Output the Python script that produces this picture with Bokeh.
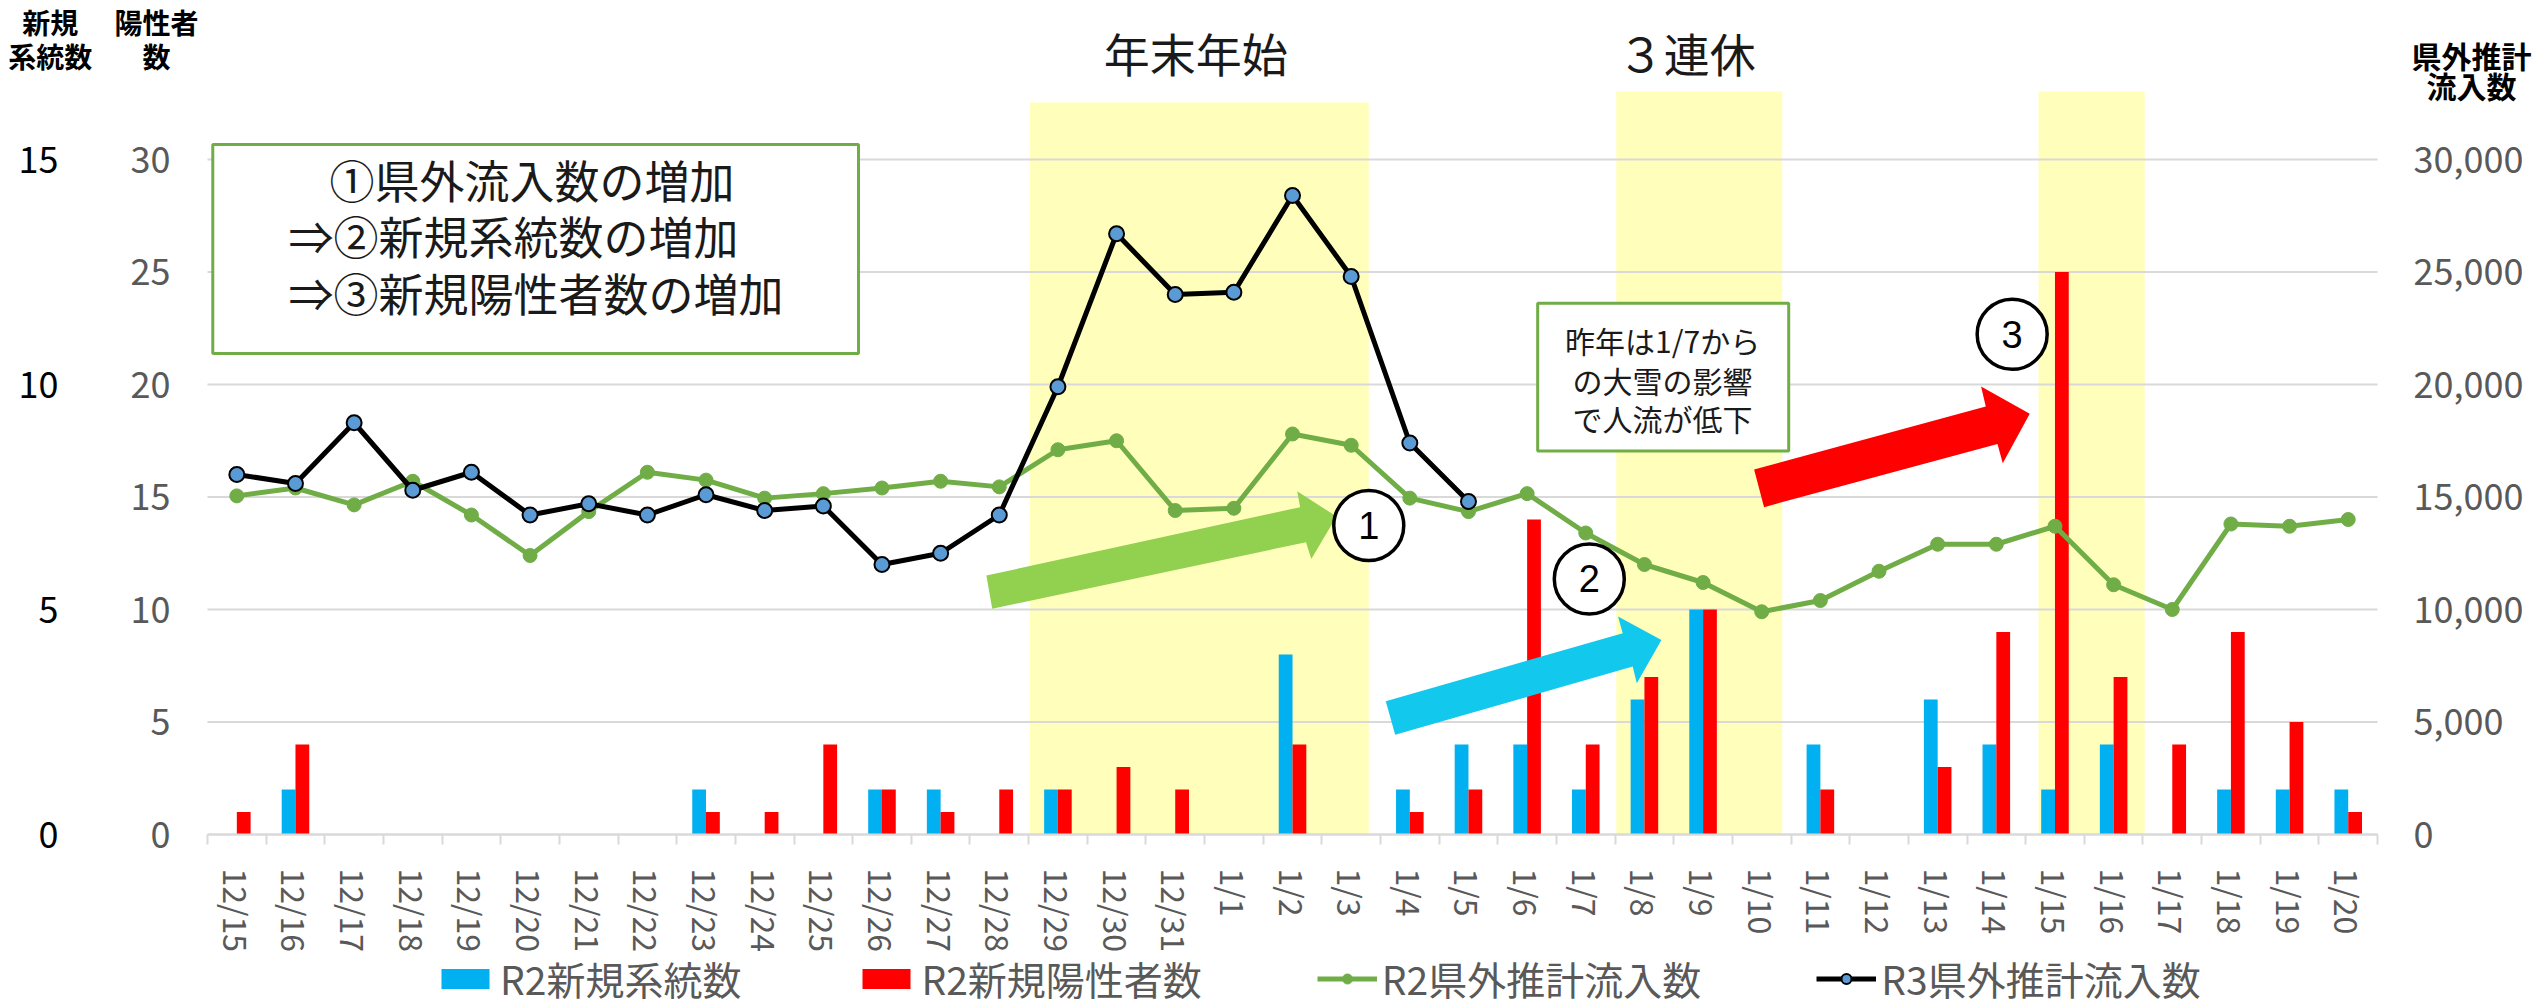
from bokeh.plotting import figure
from bokeh.models import (Range1d, LinearAxis, FixedTicker, Legend, LegendItem,
                          Label, BoxAnnotation, NumeralTickFormatter)
from bokeh.embed import file_html
from bokeh.resources import INLINE

# ---------------- data ----------------
dates = ["12/15", "12/16", "12/17", "12/18", "12/19", "12/20", "12/21", "12/22",
         "12/23", "12/24", "12/25", "12/26", "12/27", "12/28", "12/29", "12/30",
         "12/31", "1/1", "1/2", "1/3", "1/4", "1/5", "1/6", "1/7", "1/8", "1/9",
         "1/10", "1/11", "1/12", "1/13", "1/14", "1/15", "1/16", "1/17", "1/18",
         "1/19", "1/20"]

# R2 new lineages (left outer axis 0-15)
r2_lineages = [0, 1, 0, 0, 0, 0, 0, 0, 1, 0, 0, 1, 1, 0, 1, 0, 0, 0, 4, 0, 1, 2,
               2, 1, 3, 5, 0, 2, 0, 3, 2, 1, 2, 0, 1, 1, 1]
# R2 new positives (left inner axis 0-30)
r2_positives = [1, 4, 0, 0, 0, 0, 0, 0, 1, 1, 4, 2, 1, 2, 2, 3, 2, 0, 4, 0, 1, 2,
                14, 4, 7, 10, 0, 2, 0, 3, 9, 25, 7, 4, 9, 5, 1]
# R2 estimated inflow from outside prefecture (right axis)
r2_inflow = [15050, 15400, 14650, 15700, 14200, 12400, 14350, 16100, 15750, 14950,
             15150, 15400, 15700, 15450, 17100, 17500, 14400, 14500, 17800, 17300,
             14950, 14350, 15150, 13400, 12000, 11200, 9900, 10400, 11700, 12900,
             12900, 13700, 11100, 10000, 13800, 13700, 14000]
# R3 estimated inflow (12/15 - 1/5)
r3_inflow = [16000, 15600, 18300, 15300, 16100, 14200, 14700, 14200, 15100, 14400,
             14600, 12000, 12500, 14200, 19900, 26700, 24000, 24100, 28400, 24800,
             17400, 14800]

pos_ticks = [0, 5, 10, 15, 20, 25, 30]
lin_ticks = [0, 5, 10, 15]
flow_ticks = [0, 5000, 10000, 15000, 20000, 25000, 30000]

legend_labels = ["R2新規系統数", "R2新規陽性者数", "R2県外推計流入数", "R3県外推計流入数"]

# ---------------- styling ----------------
FONT = "Noto Sans CJK JP"
GREY = "#595959"
GRID = "#D9D9D9"
C_BLUE = "#00B0F0"
C_RED = "#FF0000"
C_GREEN = "#70AD47"
C_MARK = "#5B9BD5"
C_SHADE = "#FFFFBB"

W, H = 2540, 1006
n = len(dates)
centers = [i + 0.5 for i in range(n)]
CAT_PX = 58.65            # pixel width of one day
UNIT_PX = 22.5            # pixels per positive-count unit
LEFT_PX, ZERO_PX = 207, 834
X0 = -LEFT_PX / CAT_PX    # the frame spans the whole figure
X1 = X0 + W / CAT_PX
Y_TOP = ZERO_PX / UNIT_PX
Y_BOT = -(H - ZERO_PX) / UNIT_PX

p = figure(width=W, height=H, output_backend="svg", toolbar_location=None,
           x_range=Range1d(X0, X1), y_range=Range1d(Y_BOT, Y_TOP),
           min_border_left=0, min_border_right=0, min_border_top=0,
           min_border_bottom=0)
p.outline_line_color = None
p.background_fill_color = "white"
p.border_fill_color = "white"
p.extra_y_ranges = {"lineage": Range1d(Y_BOT / 2.0, Y_TOP / 2.0),
                    "flow": Range1d(Y_BOT * 1000.0, Y_TOP * 1000.0)}

# grid lines limited to the chart area
p.xgrid.visible = False
p.ygrid.visible = False
p.segment(x0=[0] * len(pos_ticks), x1=[n] * len(pos_ticks), y0=pos_ticks,
          y1=pos_ticks, line_color=GRID, line_width=2, level="underlay")

# x axis (pinned at y = 0)
xa = p.xaxis[0]
xa.fixed_location = 0
xa.bounds = (0, n)
xa.ticker = FixedTicker(ticks=centers, minor_ticks=list(range(n + 1)))
xa.major_label_overrides = {c: d for c, d in zip(centers, dates)}
xa.major_label_orientation = "vertical"
xa.major_tick_line_color = None
xa.major_tick_out = 0
xa.major_tick_in = 0
xa.minor_tick_out = 10
xa.minor_tick_in = 0
xa.minor_tick_line_color = GRID
xa.minor_tick_line_width = 2
xa.axis_line_color = GRID
xa.axis_line_width = 2
xa.major_label_standoff = 24
xa.major_label_text_font = FONT
xa.major_label_text_font_size = "32px"
xa.major_label_text_color = GREY

# inner left axis (positives)
ya = p.yaxis[0]
ya.fixed_location = 0
ya.bounds = (0, 30)
ya.ticker = FixedTicker(ticks=pos_ticks)
ya.axis_line_color = None
ya.major_tick_line_color = None
ya.minor_tick_line_color = None
ya.major_label_standoff = 31
ya.major_label_text_font = FONT
ya.major_label_text_font_size = "36px"
ya.major_label_text_color = GREY

# outer left axis (lineages)
ya2 = LinearAxis(y_range_name="lineage", ticker=FixedTicker(ticks=lin_ticks),
                 fixed_location=0, bounds=(0, 15),
                 axis_line_color=None, major_tick_line_color=None,
                 minor_tick_line_color=None, major_label_standoff=143,
                 major_label_text_font=FONT, major_label_text_font_size="36px",
                 major_label_text_color="#000000")
p.add_layout(ya2, "left")

# right axis (inflow)
yr = LinearAxis(y_range_name="flow", ticker=FixedTicker(ticks=flow_ticks),
                fixed_location=n, bounds=(0, 30000),
                formatter=NumeralTickFormatter(format="0,0"),
                axis_line_color=None, major_tick_line_color=None,
                minor_tick_line_color=None, major_label_standoff=30,
                major_label_text_font=FONT, major_label_text_font_size="36px",
                major_label_text_color=GREY)
p.add_layout(yr, "right")

# ---------------- holiday shading (annotation layout) ----------------
shade_left = [14.02, 24.02, 31.22]
shade_right = [19.80, 26.85, 33.03]
shade_top = [32.53, 33.02, 33.02]
p.quad(left=shade_left, right=shade_right, bottom=[0, 0, 0], top=shade_top,
       fill_color=C_SHADE, line_color=None, level="image")

# ---------------- bars ----------------
bw = 0.235
blue = p.vbar(x=[c - bw / 2 for c in centers], top=r2_lineages, width=bw,
              y_range_name="lineage", fill_color=C_BLUE, line_color=None)
red = p.vbar(x=[c + bw / 2 for c in centers], top=r2_positives, width=bw,
             fill_color=C_RED, line_color=None)

# ---------------- lines ----------------
g_line = p.line(x=centers, y=r2_inflow, y_range_name="flow", line_color=C_GREEN,
                line_width=5)
g_pts = p.scatter(x=centers, y=r2_inflow, y_range_name="flow", size=14,
                  fill_color=C_GREEN, line_color=C_GREEN)
k_line = p.line(x=centers[:len(r3_inflow)], y=r3_inflow, y_range_name="flow",
                line_color="black", line_width=5)
k_pts = p.scatter(x=centers[:len(r3_inflow)], y=r3_inflow, y_range_name="flow",
                  size=15, fill_color=C_MARK, line_color="black", line_width=2)

# ---------------- block arrows (annotation layout) ----------------
arrows = [
    ([13.28, 18.63, 18.58, 19.25, 18.82, 18.73, 13.38],
     [11.51, 14.55, 15.26, 14.13, 12.25, 12.99, 10.03], "#92D050"),
    ([20.09, 24.13, 24.05, 24.79, 24.37, 24.30, 20.25],
     [5.92, 8.95, 9.69, 8.65, 6.72, 7.47, 4.43], "#12C8EC"),
    ([26.37, 30.32, 30.24, 31.07, 30.61, 30.52, 26.54],
     [16.22, 19.02, 19.91, 18.70, 16.50, 17.36, 14.55], "#FF0000"),
]
for ax_, ay_, col in arrows:
    p.patch(x=ax_, y=ay_, fill_color=col, line_color=None)

# circled step numbers
circ_x = [19.80, 23.56, 30.77]
circ_y = [13.73, 11.36, 22.23]
circ_t = ["1", "2", "3"]
p.scatter(x=circ_x, y=circ_y, size=70, marker="circle", fill_color="white",
          line_color="black", line_width=3.5)
for cx, cy, ct in zip(circ_x, circ_y, circ_t):
    p.add_layout(Label(x=cx, y=cy, text=ct, text_align="center",
                       text_baseline="middle", text_font="Liberation Sans",
                       text_font_size="38px", text_color="black"))

# ---------------- text boxes ----------------
p.add_layout(BoxAnnotation(left=0.09, right=11.10, bottom=21.38, top=30.67,
                           fill_color="white", fill_alpha=1.0,
                           line_color=C_GREEN, line_width=3, line_alpha=1.0))
box1_lines = [("①県外流入数の増加", 2.08, 29.12),
              ("⇒②新規系統数の増加", 1.38, 26.63),
              ("⇒③新規陽性者数の増加", 1.38, 24.09)]
for t, lx, ly in box1_lines:
    p.add_layout(Label(x=lx, y=ly, text=t, text_align="left",
                       text_baseline="middle", text_font=FONT,
                       text_font_size="45px", text_color="#1a1a1a"))

p.add_layout(BoxAnnotation(left=22.68, right=26.96, bottom=17.04, top=23.61,
                           fill_color="white", fill_alpha=1.0,
                           line_color=C_GREEN, line_width=3, line_alpha=1.0))
box2_lines = [("昨年は1/7から", 21.96), ("の大雪の影響", 20.18), ("で人流が低下", 18.53)]
for t, ly in box2_lines:
    p.add_layout(Label(x=24.81, y=ly, text=t, text_align="center",
                       text_baseline="middle", text_font=FONT,
                       text_font_size="30px", text_color="#1a1a1a"))

# holiday labels
for t, lx in [("年末年始", 16.85), ("３連休", 25.22)]:
    p.add_layout(Label(x=lx, y=34.76, text=t, text_align="center",
                       text_baseline="middle", text_font=FONT,
                       text_font_size="46px", text_color="#1a1a1a"))

# axis titles
titles = [("新規", -2.68, 36.13, 28), ("系統数", -2.68, 34.62, 28),
          ("陽性者", -0.87, 36.13, 28), ("数", -0.87, 34.62, 28),
          ("県外推計", 38.60, 34.64, 30), ("流入数", 38.60, 33.30, 30)]
for t, lx, ly, fs in titles:
    p.add_layout(Label(x=lx, y=ly, text=t, text_align="center",
                       text_baseline="middle", text_font=FONT,
                       text_font_size=f"{fs}px", text_font_style="bold",
                       text_color="#000000"))

# ---------------- legend ----------------
legend = Legend(items=[LegendItem(label=legend_labels[0], renderers=[blue]),
                       LegendItem(label=legend_labels[1], renderers=[red]),
                       LegendItem(label=legend_labels[2], renderers=[g_line, g_pts]),
                       LegendItem(label=legend_labels[3], renderers=[k_line, k_pts])],
                orientation="horizontal", location=(435, 0),
                glyph_width=60, glyph_height=25, label_standoff=5, spacing=115,
                padding=0, margin=0, border_line_color=None,
                background_fill_alpha=0, label_text_font=FONT,
                label_text_font_size="39px", label_text_color=GREY)
p.add_layout(legend)

open("out.html", "w").write(file_html(p, INLINE))
